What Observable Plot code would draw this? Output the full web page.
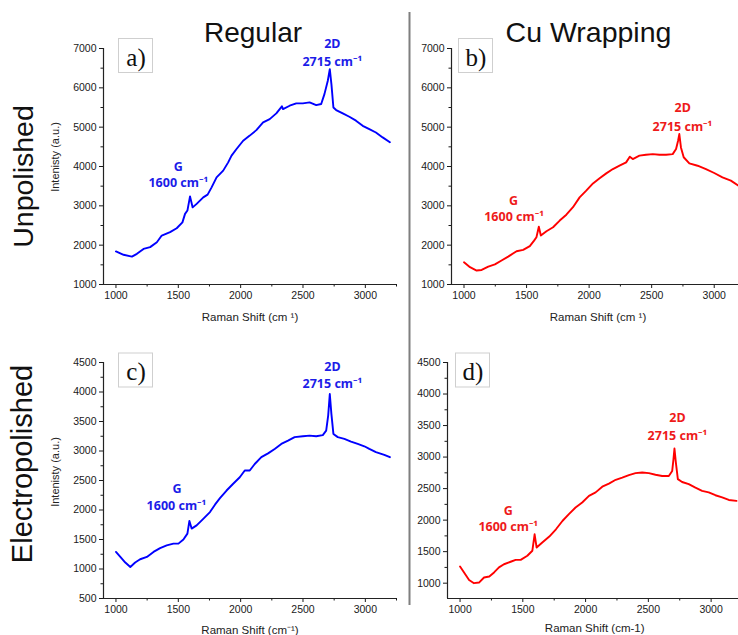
<!DOCTYPE html>
<html>
<head>
<meta charset="utf-8">
<script src="https://cdn.jsdelivr.net/npm/d3@7"></script>
<script src="https://cdn.jsdelivr.net/npm/@observablehq/plot@0.6"></script>
<style>
  html, body { margin: 0; padding: 0; background: #fff; overflow: hidden; }
  #fig { position: relative; width: 738px; height: 635px; overflow: hidden; background: #fff; }
  #fig svg { position: absolute; }
</style>
</head>
<body>
<div id="fig"></div>
<script>
// ---------- data ----------
const colTitles = ["Regular", "Cu Wrapping"];
const rowTitles = ["Unpolished", "Electropolished"];
const panelTags = ["a)", "b)", "c)", "d)"];
const yAxisTitle = "Intenisty (a.u.)";
const xAxisTitles = ["Raman Shift (cm \u00B9)", "Raman Shift (cm \u00B9)", "Raman Shift (cm\u207B\u00B9)", "Raman Shift (cm-1)"];

const xTicksMajor = [1000, 1500, 2000, 2500, 3000];
const xTicksMinor = [1250, 1750, 2250, 2750, 3250];
const xDomain = [900, 3250];

const yTicksTopMajor = [1000, 2000, 3000, 4000, 5000, 6000, 7000];
const yTicksTopMinor = [1500, 2500, 3500, 4500, 5500, 6500];
const yTicksCMajor = [500, 1000, 1500, 2000, 2500, 3000, 3500, 4000, 4500];
const yTicksCMinor = [750, 1250, 1750, 2250, 2750, 3250, 3750, 4250];
const yTicksDMajor = [1000, 1500, 2000, 2500, 3000, 3500, 4000, 4500];
const yTicksDMinor = [1250, 1750, 2250, 2750, 3250, 3750, 4250];

// a) Regular, unpolished
const shiftA = [1000,1061,1128,1168,1221,1274,1328,1367,1434,1487,1533,1554,1573,1594,1615,1647,1700,1735,1767,1807,1860,1900,1927,1967,2020,2073,2126,2180,2233,2286,2331,2340,2393,2446,2499,2553,2606,2646,2672,2699,2715,2728,2744,2766,2819,2872,2925,2979,3032,3085,3139,3197];
const intensityA = [1840,1755,1710,1780,1905,1950,2075,2245,2330,2430,2580,2795,2880,3240,2960,3050,3215,3285,3470,3725,3895,4105,4275,4445,4655,4785,4925,5120,5205,5350,5530,5460,5545,5605,5605,5630,5560,5590,5840,6180,6475,6095,5500,5435,5350,5265,5165,5035,4950,4865,4740,4615];

// b) Cu wrapping, unpolished
const shiftB = [1000,1048,1101,1141,1194,1247,1300,1353,1420,1473,1526,1560,1579,1598,1614,1659,1712,1765,1818,1871,1924,1977,2031,2084,2137,2190,2243,2296,2325,2349,2402,2455,2509,2562,2615,2668,2695,2711,2721,2734,2756,2801,2867,2934,3000,3066,3133,3191];
const intensityB = [1565,1440,1355,1370,1455,1510,1610,1710,1845,1880,1975,2115,2200,2470,2245,2355,2455,2625,2775,2965,3215,3385,3570,3700,3825,3935,4020,4105,4250,4190,4275,4300,4315,4300,4300,4315,4445,4655,4825,4485,4235,4080,4020,3935,3835,3725,3640,3515];

// c) Regular, electropolished
const shiftC = [1000,1035,1075,1115,1154,1194,1248,1301,1354,1407,1461,1501,1541,1573,1589,1607,1647,1700,1754,1794,1834,1887,1940,1993,2033,2073,2113,2166,2220,2273,2326,2380,2433,2499,2553,2606,2659,2686,2702,2715,2728,2744,2779,2832,2885,2939,2992,3032,3085,3152,3197];
const intensityC = [1290,1205,1110,1035,1110,1165,1205,1290,1355,1400,1430,1430,1500,1600,1815,1685,1740,1850,1965,2090,2200,2330,2445,2555,2670,2670,2780,2895,2960,3035,3120,3175,3235,3250,3260,3250,3270,3345,3600,3965,3625,3290,3235,3205,3160,3120,3080,3035,2980,2935,2895];

// d) Cu wrapping, electropolished
const shiftD = [1000,1032,1072,1111,1151,1191,1233,1271,1310,1350,1403,1443,1483,1536,1576,1594,1610,1655,1711,1764,1817,1867,1920,1973,2027,2080,2133,2186,2240,2292,2345,2398,2451,2504,2557,2610,2663,2690,2700,2708,2719,2735,2769,2822,2875,2928,2981,3034,3088,3141,3202];
const intensityD = [1265,1170,1050,1000,1010,1090,1105,1170,1250,1300,1340,1370,1370,1435,1515,1775,1565,1645,1740,1855,1990,2095,2200,2280,2385,2440,2530,2580,2640,2675,2715,2745,2755,2745,2720,2700,2700,2780,2965,3135,2915,2650,2605,2570,2515,2465,2440,2395,2360,2320,2305];

// peak annotations (label text, anchored at data coordinates)
const annText = ["G", "1600 cm\u207B\u00B9", "2D", "2715 cm\u207B\u00B9"];
const annXA = [1500, 1500, 2735, 2735], annYA = [4000, 3570, 7120, 6660];
const annXB = [1395, 1400, 2748, 2746], annYB = [3135, 2710, 5490, 5015];
const annXC = [1490, 1485, 2736, 2736], annYC = [2360, 2066, 4427, 4135];
const annXD = [1384, 1384, 2732, 2732], annYD = [2147, 1893, 3618, 3337];

const blue = "#0000ff", blueText = "#1c1ce8";
const red = "#ff0000", redText = "#ee1a1a";

// ---------- drawing ----------
const fig = document.getElementById("fig");
const FONT = "'Liberation Sans', Arial, sans-serif";

function panel(cfg) {
  const data = cfg.xs.map((x, i) => ({x, y: cfg.ys[i]}));
  const ann = cfg.annX.map((x, i) => ({x, y: cfg.annY[i], text: annText[i]}));
  const svg = Plot.plot({
    width: cfg.w, height: cfg.h,
    marginLeft: cfg.ml, marginRight: cfg.mr, marginTop: cfg.mt, marginBottom: cfg.mb,
    x: {domain: xDomain},
    y: {domain: cfg.yDomain},
    style: {fontFamily: FONT, fontSize: "10.5px", color: "#1a1a1a", background: "transparent", overflow: "visible"},
    marks: [
      Plot.axisX({ticks: xTicksMajor, tickSize: 4, tickPadding: 3, tickFormat: "d", label: null}),
      Plot.axisX({ticks: xTicksMinor, tickSize: 2.5, tickFormat: () => "", label: null}),
      Plot.axisY({ticks: cfg.yMajor, tickSize: 4, tickPadding: 3, tickFormat: "d", label: null}),
      Plot.axisY({ticks: cfg.yMinor, tickSize: 2.5, tickFormat: () => "", label: null}),
      Plot.ruleX([xDomain[0]], {stroke: "#222", strokeWidth: 1.2}),
      Plot.ruleY([cfg.yDomain[0]], {stroke: "#222", strokeWidth: 1.2}),
      Plot.line(data, {x: "x", y: "y", stroke: cfg.color, strokeWidth: 1.9}),
      Plot.text(ann, {x: "x", y: "y", text: "text", fill: cfg.textColor, fontWeight: "bold",
                      fontSize: 12.5, fontFamily: "'Noto Sans', 'Open Sans', sans-serif"})
    ]
  });
  svg.style.left = cfg.left + "px";
  svg.style.top = cfg.top + "px";
  fig.appendChild(svg);
}

panel({left: 0, top: 0, w: 410, h: 330, ml: 103, mr: 14, mt: 48, mb: 46,
  xs: shiftA, ys: intensityA, yDomain: [1000, 7000], yMajor: yTicksTopMajor, yMinor: yTicksTopMinor,
  color: blue, textColor: blueText, annX: annXA, annY: annYA});
panel({left: 410, top: 0, w: 340, h: 330, ml: 41, mr: 5, mt: 48, mb: 46,
  xs: shiftB, ys: intensityB, yDomain: [1000, 7000], yMajor: yTicksTopMajor, yMinor: yTicksTopMinor,
  color: red, textColor: redText, annX: annXB, annY: annYB});
panel({left: 0, top: 330, w: 410, h: 305, ml: 103, mr: 14, mt: 32, mb: 37,
  xs: shiftC, ys: intensityC, yDomain: [500, 4500], yMajor: yTicksCMajor, yMinor: yTicksCMinor,
  color: blue, textColor: blueText, annX: annXC, annY: annYC});
panel({left: 410, top: 330, w: 340, h: 305, ml: 37, mr: 8, mt: 32, mb: 37,
  xs: shiftD, ys: intensityD, yDomain: [757, 4500], yMajor: yTicksDMajor, yMinor: yTicksDMinor,
  color: red, textColor: redText, annX: annXD, annY: annYD});

// ---------- overlay: titles, axis titles, panel tags, divider ----------
const ov = d3.select(fig).append("svg")
  .attr("width", 738).attr("height", 635)
  .style("left", "0px").style("top", "0px")
  .style("pointer-events", "none")
  .style("font-family", FONT);

ov.append("line").attr("x1", 409.5).attr("x2", 409.5).attr("y1", 12).attr("y2", 605)
  .attr("stroke", "#7f7f7f").attr("stroke-width", 2);

ov.append("text").attr("x", 253).attr("y", 41.5).attr("text-anchor", "middle")
  .attr("font-size", 28).attr("fill", "#111").text(colTitles[0]);
ov.append("text").attr("x", 588.5).attr("y", 41.7).attr("text-anchor", "middle")
  .attr("font-size", 28.5).attr("fill", "#111").text(colTitles[1]);

ov.append("text").attr("transform", "translate(33,176.5) rotate(-90)").attr("text-anchor", "middle")
  .attr("font-size", 28.5).attr("fill", "#111").text(rowTitles[0]);
ov.append("text").attr("transform", "translate(32,464) rotate(-90)").attr("text-anchor", "middle")
  .attr("font-size", 29).attr("fill", "#111").text(rowTitles[1]);

[[59, 157], [59, 472]].forEach(([x, y]) => {
  ov.append("text").attr("transform", `translate(${x},${y}) rotate(-90)`).attr("text-anchor", "middle")
    .attr("font-size", 11).attr("fill", "#222").text(yAxisTitle);
});

[[250, 321], [598, 321], [250, 634], [594.7, 632]].forEach(([x, y], i) => {
  ov.append("text").attr("x", x).attr("y", y).attr("text-anchor", "middle")
    .attr("font-size", 11.5).attr("fill", "#222").text(xAxisTitles[i]);
});

[[118.5, 38.5], [458.5, 38.5], [118.5, 353], [455.5, 353]].forEach(([x, y], i) => {
  ov.append("rect").attr("x", x).attr("y", y).attr("width", 34).attr("height", 34)
    .attr("fill", "#fff").attr("stroke", "#cfcfcf").attr("stroke-width", 1);
  ov.append("text").attr("x", x + 17.5).attr("y", y + 27).attr("text-anchor", "middle")
    .attr("font-family", "'Liberation Serif', 'Times New Roman', serif").attr("font-size", 25)
    .attr("fill", "#111").text(panelTags[i]);
});
</script>
</body>
</html>
